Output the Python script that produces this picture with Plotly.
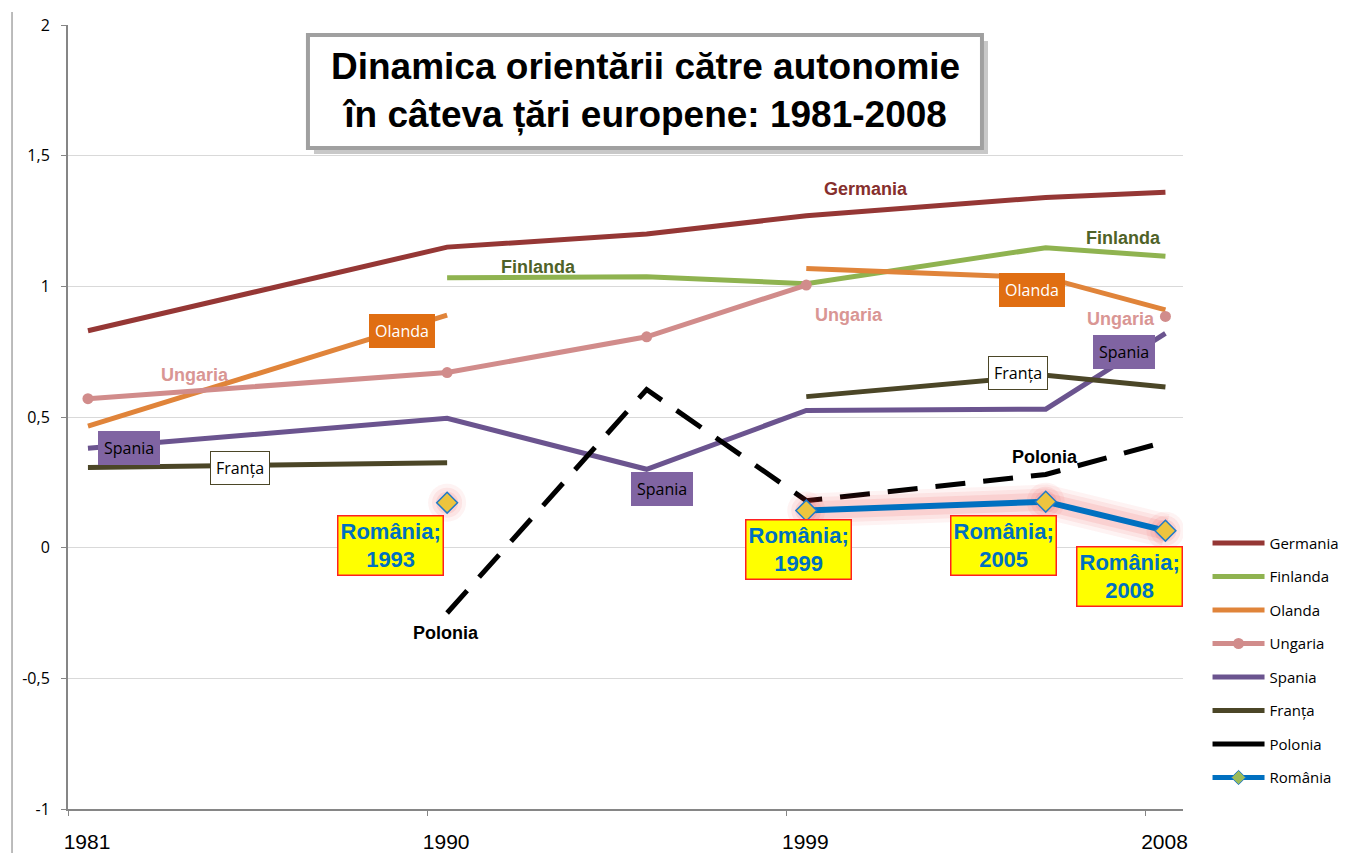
import plotly.graph_objects as go

# ---- data -------------------------------------------------------------
waves = [1981, 1990, 1995, 1999, 2005, 2008]
germania = [0.83, 1.15, 1.20, 1.27, 1.34, 1.36]
finlanda = [None, 1.033, 1.037, 1.01, 1.148, 1.115]
olanda = [0.465, 0.89, None, 1.068, 1.033, 0.91]
ungaria = [0.57, 0.67, 0.807, 1.005, None, 0.885]
spania = [0.38, 0.495, 0.30, 0.525, 0.53, 0.82]
franta = [0.307, 0.325, None, 0.578, 0.66, 0.615]
polonia = [None, -0.25, 0.605, 0.18, 0.28, 0.405]
romania = [None, 0.172, None, 0.142, 0.176, 0.065]

x_tick_vals = [1980.5, 1989.5, 1998.5, 2007.5]
x_tick_text = ["1981", "1990", "1999", "2008"]
y_tick_vals = [-1, -0.5, 0, 0.5, 1, 1.5, 2]
y_tick_text = ["-1", "-0,5", "0", "0,5", "1", "1,5", "2"]

title_lines = ["Dinamica orientării către autonomie", "în câteva țări europene: 1981-2008"]

C = {
    "Germania": "#953735",
    "Finlanda": "#8FB350",
    "Olanda": "#E0843A",
    "Ungaria": "#D18C8B",
    "Spania": "#6B548F",
    "Franța": "#4B4627",
    "Polonia": "#000000",
    "România": "#0070C0",
}

fig = go.Figure()

def add_line(name, ys, **kw):
    fig.add_trace(go.Scatter(
        x=waves, y=ys, name=name, legendgroup=name,
        mode=kw.pop("mode", "lines"),
        line=dict(color=C[name], width=5, dash=kw.pop("dash", "solid")),
        connectgaps=False, **kw))

add_line("Germania", germania)
add_line("Finlanda", finlanda)
add_line("Olanda", olanda)
add_line("Ungaria", ungaria, mode="lines+markers",
         marker=dict(symbol="circle", size=11, color=C["Ungaria"]))
add_line("Spania", spania)
add_line("Franța", franta)
add_line("Polonia", polonia, dash="30px,18px", showlegend=False)
# legend entry for Polonia (solid sample, as in the reference legend)
fig.add_trace(go.Scatter(x=[None], y=[None], name="Polonia", legendgroup="Polonia",
                         mode="lines", line=dict(color=C["Polonia"], width=5)))

# glow behind Romania
for w, a in [(34, 0.06), (26, 0.08), (18, 0.10)]:
    fig.add_trace(go.Scatter(
        x=waves, y=romania, mode="lines+markers", showlegend=False, hoverinfo="skip",
        line=dict(color=f"rgba(235,50,50,{a})", width=w),
        marker=dict(size=w + 4, color=f"rgba(235,50,50,{a})", line=dict(width=0))))

fig.add_trace(go.Scatter(
    x=waves, y=romania, name="România", legendgroup="România", showlegend=False,
    mode="lines+markers", line=dict(color=C["România"], width=6),
    marker=dict(symbol="diamond", size=16, color="#EDC43E",
                line=dict(color="#1F7AC8", width=1.5))))
fig.add_trace(go.Scatter(
    x=[None], y=[None], name="România", legendgroup="România",
    mode="lines+markers", line=dict(color=C["România"], width=5),
    marker=dict(symbol="diamond", size=11, color="#9BBB59",
                line=dict(color="#1F7AC8", width=1))))

# ---- annotations ------------------------------------------------------
ann = []
def bold_label(x, y, text, color, size=18):
    ann.append(dict(x=x, y=y, text=f"<b>{text}</b>", showarrow=False,
                    font=dict(family="Liberation Sans, Arial", size=size, color=color)))

def box_label(x, y, text, bg, fg, border=None):
    ann.append(dict(x=x, y=y, text=text, showarrow=False, bgcolor=bg,
                    bordercolor=border or bg, borderwidth=1, borderpad=5,
                    font=dict(family="Open Sans, Noto Sans", size=16, color=fg)))

bold_label(2000.5, 1.374, "Germania", "#862F2D")
bold_label(1992.28, 1.075, "Finlanda", "#4F6228")
bold_label(2006.94, 1.186, "Finlanda", "#4F6228")
bold_label(1983.68, 0.662, "Ungaria", "#D99694")
bold_label(2000.07, 0.892, "Ungaria", "#D99694")
bold_label(2006.89, 0.876, "Ungaria", "#D99694")
bold_label(1989.97, -0.325, "Polonia", "#000000")
bold_label(2004.99, 0.348, "Polonia", "#000000")

box_label(1988.87, 0.830, "Olanda", "#E06E12", "#FFFFFF")
box_label(2004.66, 0.987, "Olanda", "#E06E12", "#FFFFFF")
box_label(1982.03, 0.383, "Spania", "#8064A2", "#000000")
box_label(1995.39, 0.226, "Spania", "#8064A2", "#000000")
box_label(2006.97, 0.750, "Spania", "#8064A2", "#000000")
box_label(1984.81, 0.306, "Franța", "#FFFFFF", "#000000", border="#4B4627")
box_label(2004.31, 0.670, "Franța", "#FFFFFF", "#000000", border="#4B4627")

for (x, y, yr) in [(1988.57, 0.008, "1993"), (1998.80, -0.008, "1999"),
                   (2003.93, 0.008, "2005"), (2007.09, -0.111, "2008")]:
    ann.append(dict(x=x, y=y, text=f"<b>România;<br>{yr}</b>", showarrow=False,
                    bgcolor="#FFFF00", bordercolor="#FF2020", borderwidth=1.5,
                    borderpad=2, align="center",
                    font=dict(family="Liberation Sans, Arial", size=22, color="#0070C0")))

# title
ann.append(dict(xref="paper", yref="paper", x=0.5175, y=0.916,
                xanchor="center", yanchor="middle",
                text="<b>" + "<br>".join(title_lines) + "</b>", showarrow=False,
                align="center",
                font=dict(family="Liberation Sans, Arial", size=37, color="#000000")))

shapes = [
    dict(type="rect", xref="paper", yref="paper", x0=0.2206, x1=0.8251,
         y0=0.8355, y1=0.9796, fillcolor="#C8C8C8", line=dict(width=0), layer="above"),
    dict(type="rect", xref="paper", yref="paper", x0=0.2152, x1=0.8197,
         y0=0.8431, y1=0.9872, fillcolor="#FFFFFF", line=dict(color="#A0A0A0", width=4),
         layer="above"),
    dict(type="line", xref="paper", yref="paper", x0=-0.0502, x1=-0.0502,
         y0=-0.06, y1=1.0166, line=dict(color="#A6A6A6", width=1.5)),
]

fig.update_layout(
    width=1359, height=853,
    margin=dict(l=68, r=176, t=25, b=44, autoexpand=False),
    paper_bgcolor="#FFFFFF", plot_bgcolor="#FFFFFF",
    annotations=ann, shapes=shapes,
    showlegend=True,
    legend=dict(x=1.022, y=0.36, xanchor="left", yanchor="top",
                traceorder="grouped", tracegroupgap=11, itemwidth=52,
                font=dict(family="Open Sans, Noto Sans", size=15, color="#000000"),
                bgcolor="rgba(0,0,0,0)"),
    xaxis=dict(range=[1980.5, 2008.44], tickmode="array", tickvals=x_tick_vals,
               ticktext=x_tick_text, showgrid=False, zeroline=False, automargin=False,
               showline=True, linecolor="#868686", linewidth=2,
               ticks="outside", ticklen=5, tickcolor="#868686",
               ticklabelshift=19, ticklabelstandoff=8,
               tickfont=dict(family="Liberation Sans, Arial", size=21, color="#000000")),
    yaxis=dict(range=[-1, 2], tickmode="array", tickvals=y_tick_vals,
               ticktext=y_tick_text, showgrid=True, gridcolor="#D9D9D9", gridwidth=1,
               zeroline=False, showline=True, linecolor="#868686", linewidth=2,
               automargin=False,
               ticks="outside", ticklen=5, tickcolor="#868686", ticklabelstandoff=8,
               tickfont=dict(family="Open Sans, Noto Sans", size=16, color="#000000")),
)

fig.write_html("out.html", config={"displayModeBar": False},
               post_script="document.body.style.margin='0';document.body.style.overflow='hidden';")
